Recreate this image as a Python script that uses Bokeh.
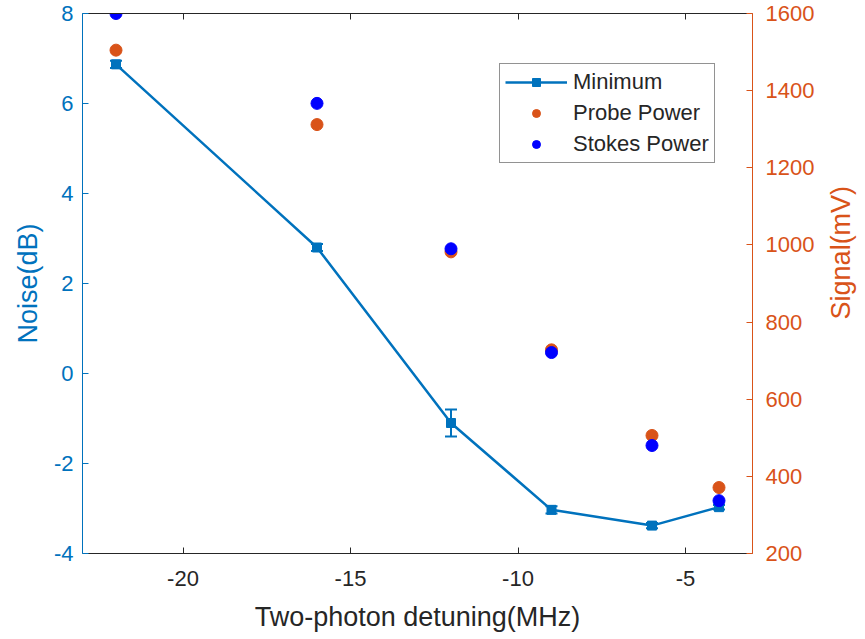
import math
from bokeh.plotting import figure
from bokeh.layouts import row
from bokeh.models import (Range1d, LinearAxis, ColumnDataSource, Whisker, TeeHead,
                          Legend, LegendItem, FixedTicker)
from bokeh.core.properties import value
from bokeh.embed import file_html
from bokeh.resources import INLINE

# ---- data ----
detuning = [-22, -16, -12, -9, -6, -4]
noise_min = [6.87, 2.80, -1.10, -3.03, -3.38, -2.97]
noise_err = [0.08, 0.08, 0.30, 0.08, 0.06, 0.05]
probe_power = [1505, 1312, 982, 728, 506, 371]
stokes_power = [1600, 1367, 990, 721, 480, 337]

x_ticks = [-20, -15, -10, -5]
noise_ticks = [-4, -2, 0, 2, 4, 6, 8]
signal_ticks = [200, 400, 600, 800, 1000, 1200, 1400, 1600]

BLUE = "#0072BD"
ORANGE = "#D95319"
STOKES = "#0000FF"
DARK = "#262626"
FONT = "Liberation Sans"

MAIN_W = 825
SIDE_W = 865 - MAIN_W
H = 639

p = figure(width=MAIN_W, height=H, output_backend="svg", toolbar_location=None,
           x_range=Range1d(-23, -3), y_range=Range1d(-4, 8),
           min_border_left=82, min_border_right=MAIN_W - 752, min_border_top=13,
           min_border_bottom=86, x_axis_location=None, y_axis_location=None)
p.extra_y_ranges = {"sig": Range1d(200, 1600)}
p.grid.visible = False
p.outline_line_color = None
p.background_fill_color = "white"
p.border_fill_color = "white"

def style(ax, color, labcolor):
    ax.axis_line_color = color
    ax.axis_line_width = 1
    ax.major_tick_line_color = color
    ax.major_tick_in = 6
    ax.major_tick_out = 0
    ax.minor_tick_line_color = None
    ax.major_label_text_color = labcolor
    ax.major_label_text_font = FONT
    ax.major_label_text_font_size = "22px"
    ax.axis_label_text_color = labcolor
    ax.axis_label_text_font = FONT
    ax.axis_label_text_font_size = "27px"
    ax.axis_label_text_font_style = "normal"

def plain(ticks):
    return {t: str(t) for t in ticks}

xb = LinearAxis(ticker=FixedTicker(ticks=x_ticks), axis_label="Two-photon detuning(MHz)")
style(xb, DARK, DARK)
xb.major_label_overrides = plain(x_ticks)
xb.major_label_standoff = 17
xb.axis_label_standoff = 13
p.add_layout(xb, "below")

xt = LinearAxis(ticker=FixedTicker(ticks=x_ticks))
style(xt, DARK, None)
xt.major_label_text_font_size = "1px"
xt.major_label_standoff = 0
p.add_layout(xt, "above")

yl = LinearAxis(ticker=FixedTicker(ticks=noise_ticks), axis_label="Noise(dB)")
style(yl, BLUE, BLUE)
yl.major_label_overrides = plain(noise_ticks)
yl.major_label_standoff = 9
yl.axis_label_standoff = 8
p.add_layout(yl, "left")

yr = LinearAxis(y_range_name="sig", ticker=FixedTicker(ticks=signal_ticks))
style(yr, ORANGE, ORANGE)
yr.major_label_standoff = 13
p.add_layout(yr, "right")

src = ColumnDataSource(dict(
    x=detuning, y=noise_min,
    lo=[a - b for a, b in zip(noise_min, noise_err)],
    hi=[a + b for a, b in zip(noise_min, noise_err)],
))

wk = Whisker(source=src, base="x", lower="lo", upper="hi", line_color=BLUE, line_width=2,
             upper_head=TeeHead(size=12, line_color=BLUE, line_width=2),
             lower_head=TeeHead(size=12, line_color=BLUE, line_width=2))
p.add_layout(wk)

ln = p.line("x", "y", source=src, line_color=BLUE, line_width=2.5)
sq = p.scatter("x", "y", source=src, marker="square", size=9,
               fill_color=BLUE, line_color=BLUE)
# legend-only vertical bar for the error-bar symbol
vb = p.scatter(x=[], y=[], marker="dash", angle=math.pi / 2, size=20,
               line_color=BLUE, line_width=2)

pr = p.scatter(detuning, probe_power, y_range_name="sig", marker="circle", size=12,
               fill_color=ORANGE, line_color=ORANGE)
st = p.scatter(detuning, stokes_power, y_range_name="sig", marker="circle", size=12,
               fill_color=STOKES, line_color=STOKES)

legend = Legend(items=[
    LegendItem(label="Minimum", renderers=[ln, vb, sq]),
    LegendItem(label="Probe Power", renderers=[pr]),
    LegendItem(label="Stokes Power", renderers=[st]),
], location=(417, 390))
legend.label_text_font = FONT
legend.label_text_font_size = "22px"
legend.label_text_color = DARK
legend.glyph_width = 62
legend.glyph_height = 20
legend.label_height = 20
legend.spacing = 5
legend.padding = 5
legend.margin = 0
legend.label_standoff = 6
legend.border_line_color = DARK
legend.border_line_width = 1
legend.background_fill_alpha = 1
p.add_layout(legend, "center")

# narrow companion panel carrying the right-axis title (reads bottom-to-top)
side = figure(width=SIDE_W, height=H, output_backend="svg", toolbar_location=None,
              x_range=Range1d(0, SIDE_W), y_range=Range1d(0, H), min_border=0,
              x_axis_location=None, y_axis_location=None)
side.grid.visible = False
side.outline_line_color = None
side.border_fill_color = "white"
side.background_fill_color = "white"
side.text(x=[840 - MAIN_W], y=[H - 283], text=["Signal(mV)"], angle=math.pi / 2,
          text_align="center", text_baseline="middle", text_font=value(FONT),
          text_font_size="27px", text_color=ORANGE)

layout = row(p, side, spacing=0)
open("out.html", "w").write(file_html(layout, INLINE))
